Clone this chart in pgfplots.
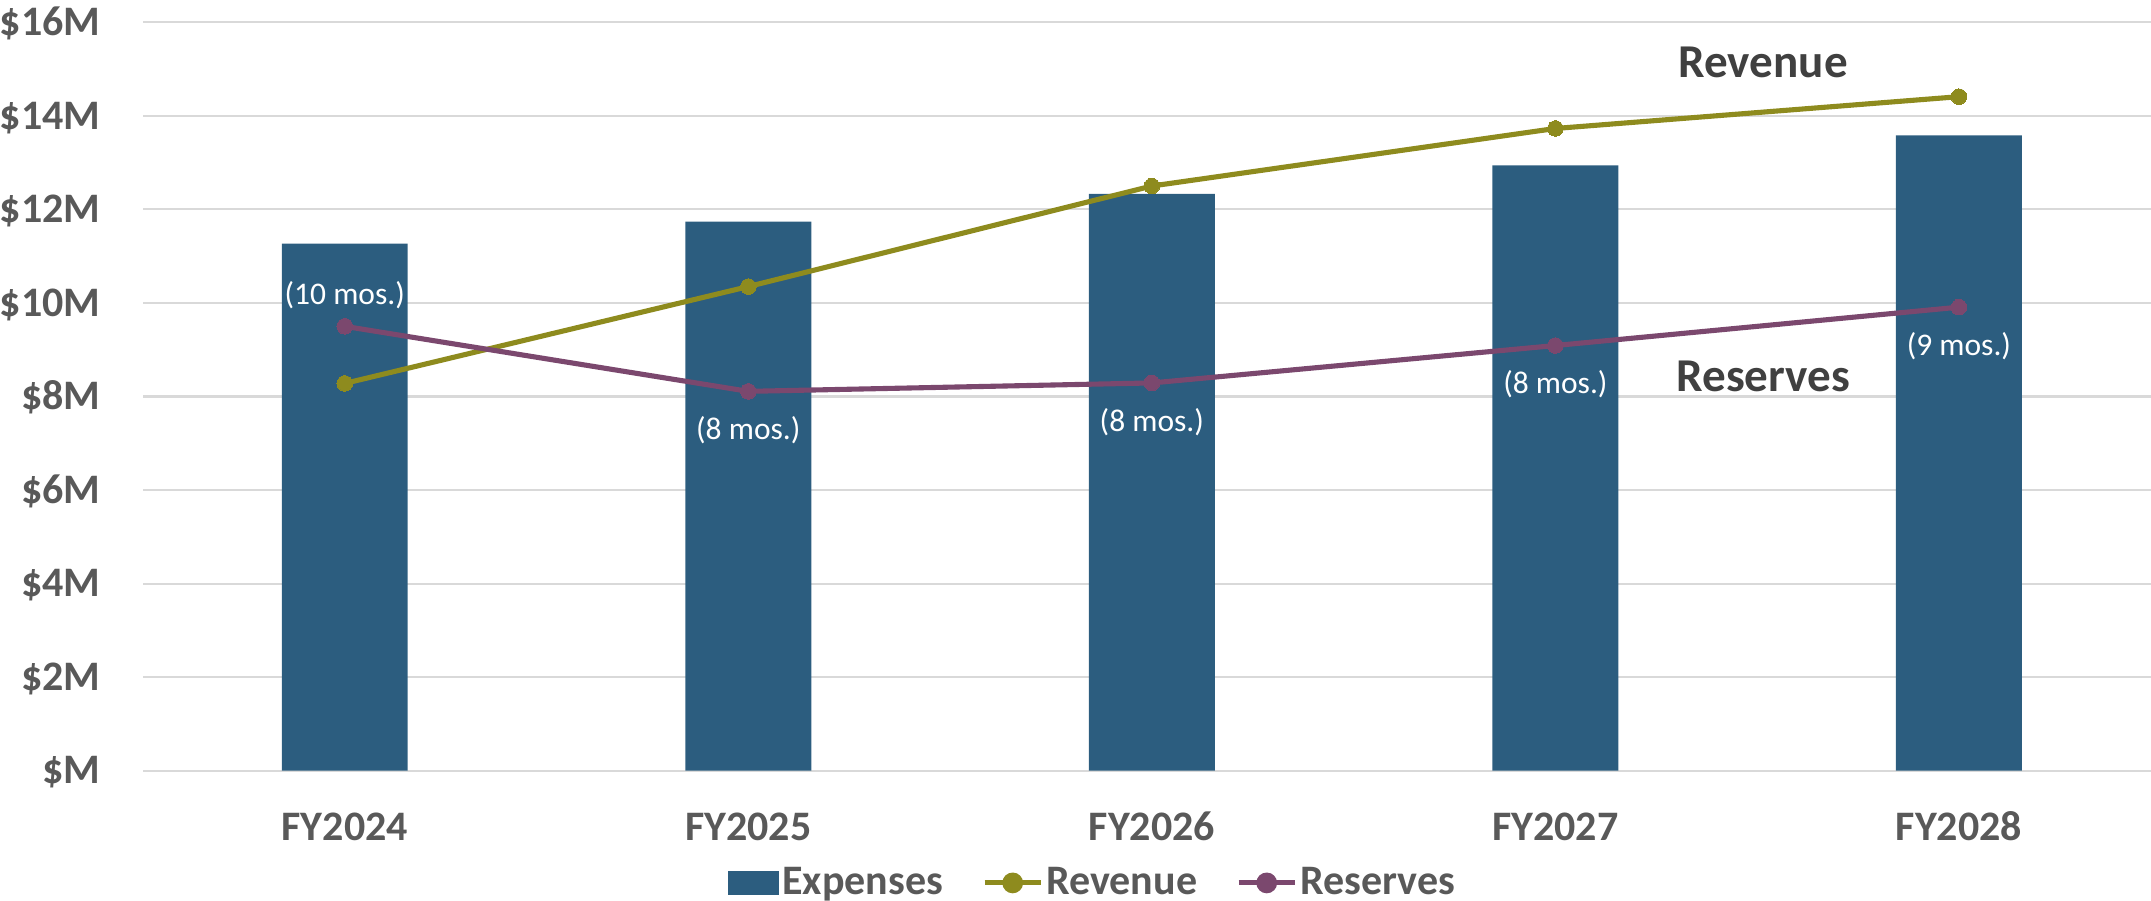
\documentclass[border=0pt]{standalone}
\usepackage{fontspec}
\setmainfont{Carlito}
\usepackage{pgfplots}
\usepackage{pgfplotstable}
\pgfplotsset{compat=1.18}

\definecolor{expblue}{HTML}{2C5D7F}
\definecolor{revolive}{HTML}{8E8B1E}
\definecolor{respurple}{HTML}{7B486E}
\definecolor{ticktext}{HTML}{595959}
\definecolor{annot}{HTML}{404040}
\definecolor{gridgray}{HTML}{D9D9D9}

% values in $M
\pgfplotstableread[col sep=comma]{
x,exp,rev
0,11.27,8.28
1,11.74,10.35
2,12.33,12.50
3,12.94,13.73
4,13.58,14.41
}\budget

\pgfplotstableread[col sep=comma]{
x,res,lab,sh
0,9.50,(10 mos.),10.3
1,8.11,(8 mos.),-13
2,8.29,(8 mos.),-13
3,9.09,(8 mos.),-13
4,9.91,(9 mos.),-13
}\reserves

\begin{document}
\begin{tikzpicture}
\useasboundingbox (-47.67pt,-43.43pt) rectangle (669.33pt,256.9pt);
\begin{axis}[
    at={(0pt,0pt)}, anchor=south west,
    scale only axis,
    width=669.33pt, height=249.47pt,
    xmin=-0.5, xmax=4.476,
    ymin=0, ymax=16,
    xtick={0,1,2,3,4},
    xticklabels={FY2024,FY2025,FY2026,FY2027,FY2028},
    ytick={0,2,4,6,8,10,12,14,16},
    yticklabels={\$M,\$2M,\$4M,\$6M,\$8M,\$10M,\$12M,\$14M,\$16M},
    axis line style={draw=none},
    major tick length=0pt,
    tick style={draw=none},
    ymajorgrids,
    grid style={draw=gridgray, line width=0.7pt},
    ticklabel style={font=\fontsize{14pt}{16pt}\selectfont\bfseries, text=ticktext, inner sep=0pt},
    yticklabel style={anchor=base east, xshift=-14pt, yshift=-4.42pt},
    xticklabel style={anchor=base, yshift=-23.1pt},
    legend style={at={(0.473,0)}, anchor=center, yshift=-37.4pt,
        draw=none, fill=none, legend columns=-1,
        font=\fontsize{14pt}{16pt}\selectfont\bfseries, text=ticktext,
        nodes={inner sep=1pt},
        /tikz/every even column/.append style={column sep=12pt}},
    legend cell align=left,
]
\addplot[ybar, bar width=0.312, fill=expblue, draw=none,
    legend image code/.code={\fill[expblue] (0pt,-4pt) rectangle (17.3pt,4pt);}]
    table[x=x, y=exp] {\budget};
\addlegendentry{Expenses}

\addplot[revolive, line width=1.7pt, mark=*, mark size=2.6pt,
    mark options={fill=revolive, draw=revolive, line width=0pt},
    legend image code/.code={\draw[revolive, line width=1.7pt] (0pt,0pt) -- (18.7pt,0pt);
        \fill[revolive] (9.35pt,0pt) circle (2.6pt);}]
    table[x=x, y=rev] {\budget};
\addlegendentry{Revenue}

\addplot[respurple, line width=1.7pt, mark=*, mark size=2.6pt,
    mark options={fill=respurple, draw=respurple, line width=0pt},
    point meta=explicit symbolic,
    nodes near coords,
    visualization depends on={\thisrow{sh}\as\lsh},
    every node near coord/.append style={anchor=center, yshift=\lsh pt,
        font=\fontsize{10.5pt}{12pt}\selectfont, text=white, inner sep=0pt},
    legend image code/.code={\draw[respurple, line width=1.7pt] (0pt,0pt) -- (18.7pt,0pt);
        \fill[respurple] (9.35pt,0pt) circle (2.6pt);}]
    table[x=x, y=res, meta=lab] {\reserves};
\addlegendentry{Reserves}

\node[font=\fontsize{15.7pt}{18pt}\selectfont\bfseries, text=annot] at (axis cs:3.515,15.15) {Revenue};
\node[font=\fontsize{15.7pt}{18pt}\selectfont\bfseries, text=annot] at (axis cs:3.515,8.43) {Reserves};
\end{axis}
\end{tikzpicture}
\end{document}
